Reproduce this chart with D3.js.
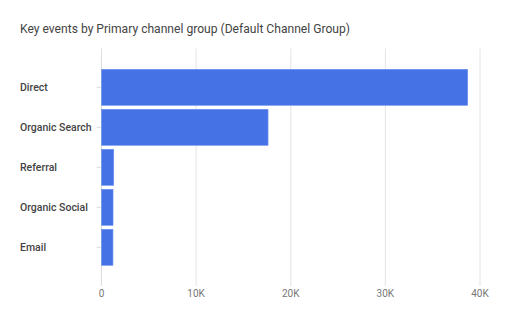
<!DOCTYPE html>
<html><head><meta charset="utf-8">
<script src="https://cdn.jsdelivr.net/npm/d3@7"></script>
<style>body{margin:0;background:#fff;}svg{display:block;font-family:Roboto,"Noto Sans",sans-serif;}</style>
</head><body>
<svg id="c" width="512" height="328"></svg>
<script>
const categories = ["Direct","Organic Search","Referral","Organic Social","Email"];
const values = [38700, 17600, 1290, 1220, 1210];
const xTicks = [0, 10000, 20000, 30000, 40000];
const xTickLabels = ["0","10K","20K","30K","40K"];
const title = "Key events by Primary channel group (Default Channel Group)";

const svg = d3.select("#c");
const x = d3.scaleLinear().domain([0, 40000]).range([101.5, 480]);
const y = d3.scaleBand().domain(categories).range([67.3, 267.3]).paddingInner(0.1).paddingOuter(0.05);

svg.append("text").attr("x", 20).attr("y", 32.5).attr("fill", "#444").attr("font-size", 12.1).text(title);

// gridlines
svg.append("g").selectAll("line").data(xTicks).join("line")
  .attr("x1", d => x(d)).attr("x2", d => x(d)).attr("y1", 48.5).attr("y2", 286)
  .attr("stroke", d => d === 0 ? "#ddd" : "#e4e4e8").attr("stroke-width", 1);

// x tick labels
svg.append("g").selectAll("text").data(xTicks).join("text")
  .attr("x", d => x(d)).attr("y", 297).attr("text-anchor", "middle")
  .attr("fill", "#777").attr("font-size", 10)
  .text((d, i) => xTickLabels[i]);

// y ticks
svg.append("g").selectAll("line").data(categories).join("line")
  .attr("x1", 96.5).attr("x2", 101.5)
  .attr("y1", d => y(d) + y.bandwidth() / 2).attr("y2", d => y(d) + y.bandwidth() / 2)
  .attr("stroke", "#ddd");

svg.append("g").selectAll("text").data(categories).join("text")
  .attr("x", 20).attr("y", d => y(d) + y.bandwidth() / 2 + 4)
  .attr("fill", "#444").attr("font-size", 10.5).attr("font-weight", 500)
  .text(d => d);

// bars
svg.append("g").selectAll("rect").data(values).join("rect")
  .attr("x", x(0)).attr("y", (d, i) => y(categories[i]))
  .attr("width", d => x(d) - x(0)).attr("height", y.bandwidth())
  .attr("fill", "#4573e6").attr("stroke", "#6b8ff0").attr("stroke-width", 0.6);
</script>
</body></html>
